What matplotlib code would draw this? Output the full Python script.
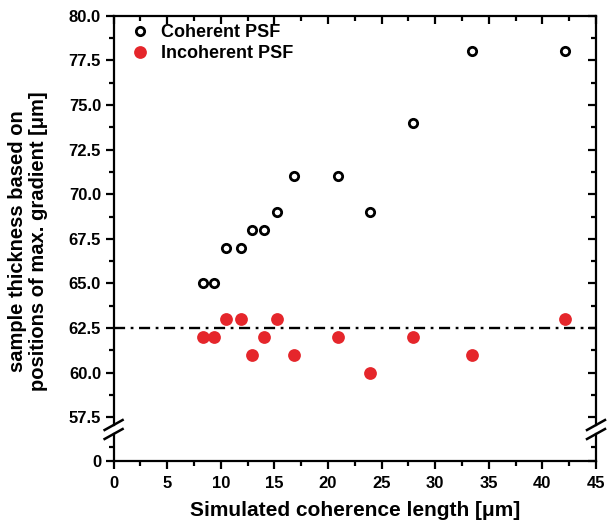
import matplotlib
matplotlib.use("Agg")
import matplotlib.pyplot as plt
from matplotlib.lines import Line2D
from matplotlib.ticker import MultipleLocator, FormatStrFormatter

plt.rcParams['font.family'] = ['Liberation Sans', 'DejaVu Sans']
plt.rcParams['font.weight'] = 'bold'
plt.rcParams['lines.scale_dashes'] = False

coherence_length = [8.3, 9.4, 10.5, 11.9, 12.9, 14.0, 15.2, 16.8, 20.9, 23.9, 27.9, 33.4, 42.1]
coherent_psf = [65, 65, 67, 67, 68, 68, 69, 71, 71, 69, 74, 78, 78]
incoherent_psf = [62, 62, 63, 63, 61, 62, 63, 61, 62, 60, 62, 61, 63]
reference_level = 62.5

W, H = 608, 521
fig = plt.figure(figsize=(W / 100, H / 100), dpi=100)

left_px, right_px = 113.6, 596.0
top_px, upper_bot_px = 15.7, 425.0
lower_top_px, bottom_px = 434.0, 461.0

def fx(px):
    return px / W

def fy(py):
    return 1 - py / H

ax = fig.add_axes([fx(left_px), fy(upper_bot_px), fx(right_px) - fx(left_px), fy(top_px) - fy(upper_bot_px)])
axl = fig.add_axes([fx(left_px), fy(bottom_px), fx(right_px) - fx(left_px), fy(lower_top_px) - fy(bottom_px)], sharex=ax)

lw = 1.6
for a in (ax, axl):
    for s in a.spines.values():
        s.set_linewidth(lw)

ax.spines['bottom'].set_visible(False)
axl.spines['top'].set_visible(False)

red = '#e5262b'
ax.plot(coherence_length, coherent_psf, linestyle='none', marker='o', ms=6.0, mew=2.0,
        mfc='white', mec='black', label='Coherent PSF', zorder=3)
ax.plot(coherence_length, incoherent_psf, linestyle='none', marker='o', ms=9.2, mew=0,
        mfc=red, mec=red, label='Incoherent PSF', zorder=3)
ax.axhline(reference_level, color='black', lw=1.7, dashes=(8, 4, 2, 4), zorder=2)

ax.set_xlim(0, 45)
ax.set_ylim(57.07, 80)
axl.set_ylim(0, 1.9)

ax.xaxis.set_major_locator(MultipleLocator(5))
ax.xaxis.set_minor_locator(MultipleLocator(2.5))
ax.yaxis.set_major_locator(MultipleLocator(2.5))
ax.yaxis.set_minor_locator(MultipleLocator(1.25))
ax.yaxis.set_major_formatter(FormatStrFormatter('%.1f'))
axl.yaxis.set_major_locator(MultipleLocator(5))
axl.yaxis.set_minor_locator(MultipleLocator(1))

tick_fs = 12
ax.tick_params(axis='x', which='both', bottom=False, labelbottom=False, top=True, direction='in')
ax.tick_params(axis='y', which='both', left=True, right=False, direction='out')
axl.tick_params(axis='x', which='both', bottom=True, top=False, direction='out')
axl.tick_params(axis='y', which='both', left=True, right=False, direction='out')
for a in (ax, axl):
    a.tick_params(axis='both', which='major', length=6, width=lw, labelsize=tick_fs, pad=3)
    a.tick_params(axis='both', which='minor', length=3.5, width=lw)
axl.tick_params(axis='x', which='major', pad=5)

# right side inward ticks
for a in (ax, axl):
    r = a.secondary_yaxis('right')
    r.set_yticks(a.get_yticks(), labels=[])
    r.yaxis.set_minor_locator(a.yaxis.get_minor_locator())
    r.tick_params(axis='y', which='both', direction='in', width=lw)
    r.tick_params(axis='y', which='major', length=6)
    r.tick_params(axis='y', which='minor', length=3.5)
    r.spines['right'].set_visible(False)

for lab in ax.get_yticklabels() + axl.get_yticklabels() + axl.get_xticklabels():
    lab.set_fontweight('bold')
    lab.set_fontsize(tick_fs)

axl.set_xlabel('Simulated coherence length [μm]', fontsize=15, fontweight='bold', labelpad=7)
fig.text(fx(28), fy(241), 'sample thickness based on\npositions of max. gradient [μm]',
         rotation=90, ha='center', va='center', fontsize=14.5, fontweight='bold', linespacing=1.1)

leg = ax.legend(loc='upper left', bbox_to_anchor=(0.01, 1.005), frameon=False, fontsize=13,
                handletextpad=0.55, labelspacing=0.22, borderaxespad=0.3, handlelength=1.2,
                borderpad=0.3)
for t in leg.get_texts():
    t.set_fontweight('bold')

# break marks
for xb in (left_px, right_px):
    for yb in (upper_bot_px, lower_top_px):
        fig.add_artist(Line2D([fx(xb - 9), fx(xb + 9)], [fy(yb + 5), fy(yb - 5)],
                              color='black', lw=1.8, transform=fig.transFigure))

fig.savefig('out.png', dpi=100)
